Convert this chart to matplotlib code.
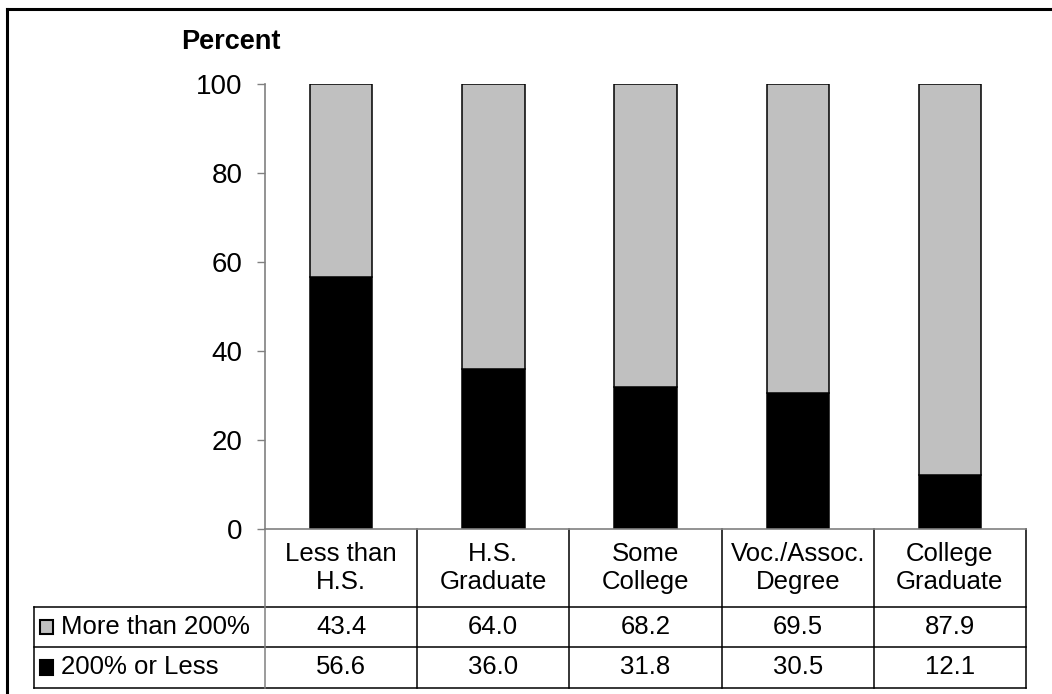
import matplotlib
matplotlib.use('Agg')
import matplotlib.pyplot as plt
import matplotlib.transforms as mtransforms
from matplotlib.lines import Line2D
from matplotlib.patches import Rectangle
import numpy as np

# Data
categories = ['Less than\nH.S.', 'H.S.\nGraduate', 'Some\nCollege',
              'Voc./Assoc.\nDegree', 'College\nGraduate']
low_income = [56.6, 36.0, 31.8, 30.5, 12.1]      # 200% or Less
high_income = [43.4, 64.0, 68.2, 69.5, 87.9]     # More than 200%
series_names = ['More than 200%', '200% or Less']
yticks = [0, 20, 40, 60, 80, 100]

plt.rcParams['font.family'] = ['Liberation Sans', 'DejaVu Sans']
FS = 18.5      # table text
TICK_FS = 20
GRAY = '#c0c0c0'
AXC = '#808080'

fig = plt.figure(figsize=(10.52, 6.94), dpi=100)
ax = fig.add_axes([0.2519, 0.2378, 0.7234, 0.6412])

x = np.arange(len(categories))
ax.bar(x, low_income, width=0.41, color='black', edgecolor='black', linewidth=1.1)
ax.bar(x, high_income, width=0.41, bottom=low_income, color=GRAY,
       edgecolor='black', linewidth=1.1)

ax.set_xlim(-0.5, len(categories) - 0.5)
ax.set_ylim(0, 100)
ax.set_yticks(yticks)
ax.set_xticks([])
ax.tick_params(axis='y', length=6, width=1, color=AXC, pad=10, labelsize=TICK_FS)
for s in ['top', 'right']:
    ax.spines[s].set_visible(False)
for s in ['left', 'bottom']:
    ax.spines[s].set_color(AXC)
    ax.spines[s].set_linewidth(1.2)

ax.text(-0.045, 1.094, 'Percent', transform=ax.transAxes, fontsize=19.5,
        fontweight='bold', ha='center', va='center')

# data table under the plot
trans = mtransforms.blended_transform_factory(ax.transData, ax.transAxes)
row_edges = [0.0, -0.1753, -0.2652, -0.3573]
left = -0.5 - 0.3035 * len(categories)
right = len(categories) - 0.5

def hline(x0, x1, y, c='black'):
    ax.add_line(Line2D([x0, x1], [y, y], transform=trans, color=c, lw=1.1, clip_on=False))

def vline(xv, y0, y1, c='black'):
    ax.add_line(Line2D([xv, xv], [y0, y1], transform=trans, color=c, lw=1.1, clip_on=False))

for y in row_edges[1:]:
    hline(left, right, y)
vline(left, row_edges[1], row_edges[3])
vline(-0.5, row_edges[0], row_edges[3], c=AXC)
for i in range(1, len(categories) + 1):
    vline(i - 0.5, row_edges[0], row_edges[3])

for i, cat in enumerate(categories):
    ax.text(i, (row_edges[0] + row_edges[1]) / 2, cat, transform=trans,
            ha='center', va='center', fontsize=FS, linespacing=1.2)

rows = [high_income, low_income]
colors = [GRAY, 'black']
sq_w, sq_h = 0.085, 0.032
for r, (vals, name, col) in enumerate(zip(rows, series_names, colors)):
    yc = (row_edges[r + 1] + row_edges[r + 2]) / 2
    for i, v in enumerate(vals):
        ax.text(i, yc, f'{v:.1f}', transform=trans, ha='center', va='center', fontsize=FS)
    ax.add_patch(Rectangle((left + 0.04, yc - sq_h / 2), sq_w, sq_h, transform=trans,
                           facecolor=col, edgecolor='black', lw=1.5, clip_on=False))
    ax.text(left + 0.18, yc, name, transform=trans, ha='left', va='center', fontsize=FS)

# outer frame (only left and top edges fall inside the image)
fig.add_artist(Line2D([7 / 1052, 7 / 1052], [0, 1 - 9 / 694], transform=fig.transFigure,
                      color='black', lw=2.2))
fig.add_artist(Line2D([7 / 1052, 1], [1 - 9 / 694, 1 - 9 / 694], transform=fig.transFigure,
                      color='black', lw=2.2))

fig.savefig('out.png', dpi=100)
